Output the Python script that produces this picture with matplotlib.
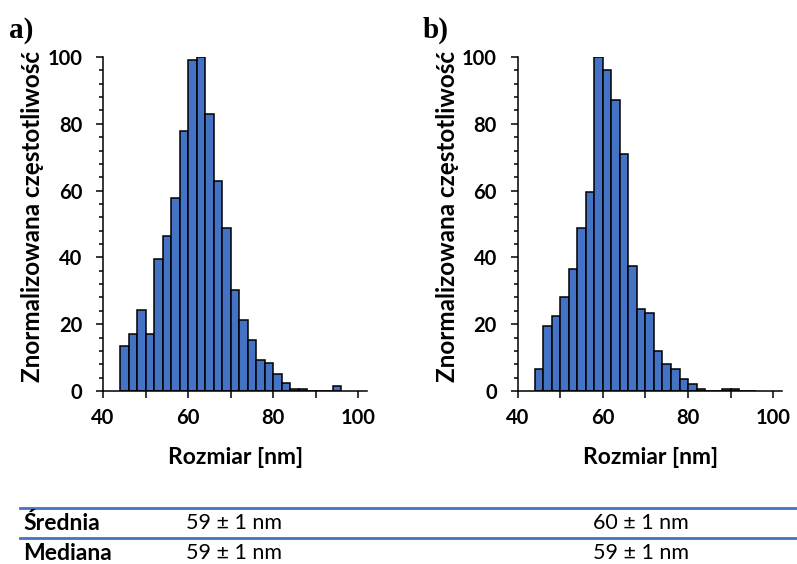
import numpy as np
import matplotlib
matplotlib.use("Agg")
import matplotlib.pyplot as plt
from matplotlib.lines import Line2D
from matplotlib.ticker import MultipleLocator, FuncFormatter

# Histogram bins (left edges, nm) and bin width
bin_left = [44, 46, 48, 50, 52, 54, 56, 58, 60, 62, 64, 66, 68,
            70, 72, 74, 76, 78, 80, 82, 84, 86, 88, 90, 92, 94]
bin_width = 2

# Normalised frequency, sample a)
freq_a = [13.6, 17.2, 24.2, 17.2, 39.6, 46.5, 57.7, 77.8, 99.2, 100.0,
          82.8, 62.9, 48.9, 30.2, 21.4, 15.4, 9.2, 8.4, 5.2, 2.4,
          0.5, 0.5, 0.0, 0.0, 0.0, 1.4]
# Normalised frequency, sample b)
freq_b = [6.6, 19.6, 22.6, 28.1, 36.6, 48.9, 59.6, 100.0, 96.2, 87.1,
          71.1, 37.5, 24.5, 23.5, 12.1, 8.2, 6.6, 3.5, 2.0, 0.5,
          0.0, 0.0, 0.5, 0.5, 0.0, 0.0]

panel_labels = ["a)", "b)"]
x_label = "Rozmiar [nm]"
y_label = "Znormalizowana częstotliwość"

# Summary table
row_names = ["Średnia", "Mediana"]
values_a = ["59 ± 1 nm", "59 ± 1 nm"]
values_b = ["60 ± 1 nm", "59 ± 1 nm"]

BAR_BLUE = "#4472C4"
SANS = ["Lato", "DejaVu Sans"]
SERIF = ["Liberation Serif", "DejaVu Serif"]

W, H = 797, 564
fig = plt.figure(figsize=(W / 100, H / 100), dpi=100)


def px_rect(left, top, right, bottom):
    return [left / W, 1 - bottom / H, (right - left) / W, (bottom - top) / H]


axes = [fig.add_axes(px_rect(103, 57, 366.7, 391)),
        fig.add_axes(px_rect(517.7, 57, 781.7, 391))]

for ax, freq in zip(axes, [freq_a, freq_b]):
    ax.bar(bin_left, freq, width=bin_width, align="edge",
           color=BAR_BLUE, edgecolor="black", linewidth=1.1, zorder=2)
    ax.set_xlim(40, 102)
    ax.set_ylim(0, 100)
    for side in ("top", "right"):
        ax.spines[side].set_visible(False)
    for side in ("left", "bottom"):
        ax.spines[side].set_linewidth(1.1)
        ax.spines[side].set_color("black")
        ax.spines[side].set_zorder(3)

    ax.xaxis.set_major_locator(MultipleLocator(10))
    ax.xaxis.set_major_formatter(
        FuncFormatter(lambda v, p: f"{v:.0f}" if round(v) % 20 == 0 else ""))
    ax.yaxis.set_major_locator(MultipleLocator(20))
    ax.yaxis.set_minor_locator(MultipleLocator(4))
    ax.tick_params(axis="x", which="major", direction="out", length=5,
                   width=1.1, pad=7)
    ax.tick_params(axis="y", which="major", direction="out", length=5,
                   width=1.1, pad=10)
    ax.tick_params(axis="y", which="minor", direction="out", length=3,
                   width=1.1)
    for lab in ax.get_xticklabels() + ax.get_yticklabels():
        lab.set_fontfamily(SANS)
        lab.set_fontweight("bold")
        lab.set_fontsize(14.5)

    ax.set_xlabel(x_label, fontfamily=SANS, fontweight="bold", fontsize=16.5,
                  va="center")
    ax.xaxis.set_label_coords(0.502, (391 - 458) / 334)
    ax.set_ylabel(y_label, fontfamily=SANS, fontweight="bold", fontsize=17.5,
                  va="center")
    ax.yaxis.set_label_coords((33 - 103) / 263.7, (391 - 217) / 334)

# Panel letters
for label, xp in zip(panel_labels, [9, 423]):
    fig.text(xp / W, 1 - 30 / H, label, fontfamily=SERIF,
             fontweight="bold", fontsize=21, ha="left", va="center")

# Table rules
for yp in (508, 537.7):
    fig.add_artist(Line2D([20 / W, 1.0], [1 - yp / H, 1 - yp / H],
                          transform=fig.transFigure, color=BAR_BLUE,
                          linewidth=2.0))

# Table text
for name, va_, vb_, yp in zip(row_names, values_a, values_b, [523, 553]):
    fig.text(23 / W, 1 - yp / H, name, fontfamily=SANS, fontweight="bold",
             fontsize=16.5, ha="left", va="center")
    fig.text(186 / W, 1 - yp / H, va_, fontfamily=SANS, fontsize=15.5,
             ha="left", va="center")
    fig.text(593 / W, 1 - yp / H, vb_, fontfamily=SANS, fontsize=15.5,
             ha="left", va="center")

fig.savefig("out.png", dpi=100)
